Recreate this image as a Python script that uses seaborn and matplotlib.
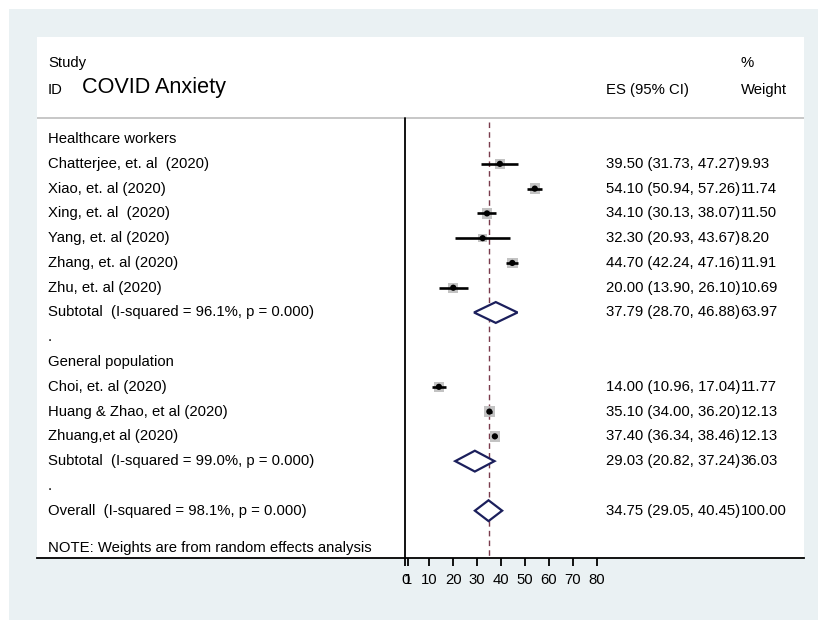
import matplotlib
matplotlib.use("Agg")
import matplotlib.pyplot as plt
import matplotlib.patches as mpatches
import numpy as np
import pandas as pd
import seaborn as sns

# ── Data ──────────────────────────────────────────────────────────────────── #
studies = ["Chatterjee, et. al  (2020)", "Xiao, et. al (2020)", "Xing, et. al  (2020)",
           "Yang, et. al (2020)", "Zhang, et. al (2020)", "Zhu, et. al (2020)",
           "Choi, et. al (2020)", "Huang & Zhao, et al (2020)", "Zhuang,et al (2020)"]
study_rows = [1, 2, 3, 4, 5, 6, 10, 11, 12]
es = [39.50, 54.10, 34.10, 32.30, 44.70, 20.00, 14.00, 35.10, 37.40]
ci_lo = [31.73, 50.94, 30.13, 20.93, 42.24, 13.90, 10.96, 34.00, 36.34]
ci_hi = [47.27, 57.26, 38.07, 43.67, 47.16, 26.10, 17.04, 36.20, 38.46]
weights = [9.93, 11.74, 11.50, 8.20, 11.91, 10.69, 11.77, 12.13, 12.13]

pooled_labels = ["Subtotal  (I-squared = 96.1%, p = 0.000)",
                 "Subtotal  (I-squared = 99.0%, p = 0.000)",
                 "Overall  (I-squared = 98.1%, p = 0.000)"]
pooled_rows = [7, 13, 15]
pooled_es = [37.79, 29.03, 34.75]
pooled_lo = [28.70, 20.82, 29.05]
pooled_hi = [46.88, 37.24, 40.45]
pooled_w = [63.97, 36.03, 100.00]

group_labels = ["Healthcare workers", ".", "General population", "."]
group_rows = [0, 8, 9, 14]

overall_es = 34.75
x_ticks = [0, 1, 10, 20, 30, 40, 50, 60, 70, 80]

# ── Style ─────────────────────────────────────────────────────────────────── #
sns.set_theme(style="white")
plt.rcParams["font.family"] = ["Liberation Sans", "DejaVu Sans"]
plt.rcParams["text.color"] = "black"
FS = 10.7
BG = "#EAF1F3"
NAVY = "#1B1F5C"
DASH = "#7A3B4C"

fig = plt.figure(figsize=(8.29, 6.3), dpi=100, facecolor="white")
fig.patches.append(mpatches.Rectangle((9 / 829, 1 - 620 / 630), 809 / 829, 611 / 630,
                                      transform=fig.transFigure, facecolor=BG,
                                      edgecolor="none", zorder=-5))
ax = fig.add_axes([37 / 829, 1 - 558 / 630, 767 / 829, 521 / 630])
ax.set_zorder(1)
ax.set_facecolor("white")
ax.set_xlim(-154.1, 166.7)
ax.set_ylim(16.91, -4.12)

# header
ax.axhline(-0.85, color="#BEBEBE", lw=1.2)
ax.text(-149.5, -3.07, "Study", fontsize=FS, va="center")
ax.text(-149.5, -2.0, "ID", fontsize=FS, va="center")
ax.text(-135.3, -2.1, "COVID Anxiety", fontsize=15.6, va="center")
ax.text(83.8, -2.0, "ES (95% CI)", fontsize=FS, va="center")
ax.text(140.2, -3.07, "%", fontsize=FS, va="center")
ax.text(140.2, -2.0, "Weight", fontsize=FS, va="center")

# null line and overall line
ax.plot([0, 0], [-0.85, 16.91], color="black", lw=1.3, zorder=2)
ax.plot([overall_es, overall_es], [-0.69, 16.91], color=DASH, lw=1,
        linestyle=(0, (4, 3)), zorder=1)

# study rows
df = pd.DataFrame({"study": studies, "row": study_rows, "es": es,
                   "lo": ci_lo, "hi": ci_hi, "w": weights})
ax.hlines(df["row"], df["lo"], df["hi"], color="black", lw=1.9, zorder=4)
sns.scatterplot(data=df, x="es", y="row", size="w", sizes=(38, 58), marker="s",
                color="#BDBDBD", edgecolor="none", alpha=0.9, legend=False,
                ax=ax, zorder=3)
sns.scatterplot(data=df, x="es", y="row", s=20, color="black", edgecolor="none",
                legend=False, ax=ax, zorder=5)

for r, name, e, lo, hi, w in zip(study_rows, studies, es, ci_lo, ci_hi, weights):
    ax.text(-149.5, r, name, fontsize=FS, va="center")
    ax.text(83.8, r, f"{e:.2f} ({lo:.2f}, {hi:.2f})", fontsize=FS, va="center")
    ax.text(140.2, r, f"{w:.2f}", fontsize=FS, va="center")

# pooled diamonds
for r, name, e, lo, hi, w in zip(pooled_rows, pooled_labels, pooled_es,
                                 pooled_lo, pooled_hi, pooled_w):
    ax.fill([lo, e, hi, e], [r, r - 0.42, r, r + 0.42], facecolor="white",
            edgecolor=NAVY, lw=1.6, zorder=4)
    ax.text(-149.5, r, name, fontsize=FS, va="center")
    ax.text(83.8, r, f"{e:.2f} ({lo:.2f}, {hi:.2f})", fontsize=FS, va="center")
    ax.text(140.2, r, f"{w:.2f}", fontsize=FS, va="center")

for r, name in zip(group_rows, group_labels):
    ax.text(-149.5, r, name, fontsize=FS, va="center")

ax.text(-149.5, 16.49, "NOTE: Weights are from random effects analysis",
        fontsize=FS, va="center")

# axis
for side in ["top", "left", "right"]:
    ax.spines[side].set_visible(False)
ax.spines["bottom"].set_color("black")
ax.spines["bottom"].set_linewidth(1.3)
ax.set_yticks([])
ax.set_xticks(x_ticks)
ax.set_xticklabels([str(t) for t in x_ticks])
ax.tick_params(axis="x", direction="out", length=6, width=1.3, color="black",
               labelsize=FS, labelcolor="black", pad=5, bottom=True)
ax.set_xlabel("")
ax.set_ylabel("")

fig.savefig("out.png", dpi=100, facecolor="white")
